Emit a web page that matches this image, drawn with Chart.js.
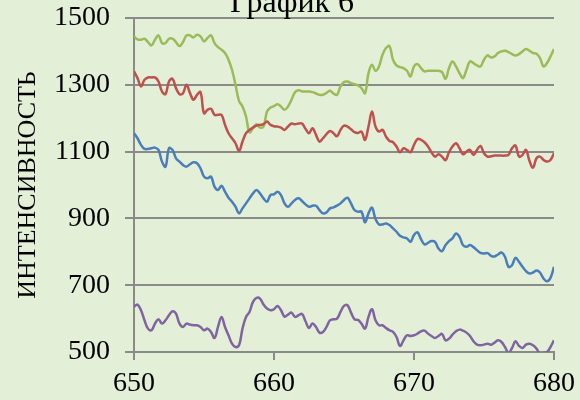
<!DOCTYPE html>
<html>
<head>
<meta charset="utf-8">
<script src="https://cdn.jsdelivr.net/npm/chart.js@4/dist/chart.umd.min.js"></script>
<style>
  body { margin: 0; background: #e3f0d7; }
  canvas { display: block; }
</style>
</head>
<body>
<canvas id="chart6" width="580" height="400"></canvas>
<script>
const chartTitle = "График 6";
const axisTitle = "ИНТЕНСИВНОСТЬ";

// wavelength, nm (step 0.25)
const wavelengths = [
  650, 650.25, 650.5, 650.75, 651, 651.25, 651.5, 651.75, 652, 652.25, 652.5, 652.75,
  653, 653.25, 653.5, 653.75, 654, 654.25, 654.5, 654.75, 655, 655.25, 655.5, 655.75,
  656, 656.25, 656.5, 656.75, 657, 657.25, 657.5, 657.75, 658, 658.25, 658.5, 658.75,
  659, 659.25, 659.5, 659.75, 660, 660.25, 660.5, 660.75, 661, 661.25, 661.5, 661.75,
  662, 662.25, 662.5, 662.75, 663, 663.25, 663.5, 663.75, 664, 664.25, 664.5, 664.75,
  665, 665.25, 665.5, 665.75, 666, 666.25, 666.5, 666.75, 667, 667.25, 667.5, 667.75,
  668, 668.25, 668.5, 668.75, 669, 669.25, 669.5, 669.75, 670, 670.25, 670.5, 670.75,
  671, 671.25, 671.5, 671.75, 672, 672.25, 672.5, 672.75, 673, 673.25, 673.5, 673.75,
  674, 674.25, 674.5, 674.75, 675, 675.25, 675.5, 675.75, 676, 676.25, 676.5, 676.75,
  677, 677.25, 677.5, 677.75, 678, 678.25, 678.5, 678.75, 679, 679.25, 679.5, 679.75, 680
];

const greenValues = [
  1445, 1436, 1435, 1438, 1428, 1418, 1435, 1448, 1425, 1425,
  1438, 1438, 1428, 1416, 1428, 1448, 1448, 1442, 1450, 1445,
  1430, 1440, 1448, 1425, 1413, 1405, 1395, 1375, 1345, 1300,
  1252, 1235, 1205, 1158, 1170, 1182, 1172, 1175, 1220, 1232,
  1236,
  1242, 1235, 1225, 1235, 1255, 1278, 1284, 1280, 1280, 1280,
  1278, 1274, 1270, 1270, 1276, 1282, 1274, 1270, 1295, 1308,
  1310, 1305, 1302, 1298, 1290, 1275, 1335, 1360, 1342, 1355,
  1390, 1410, 1416, 1375, 1358, 1353, 1350, 1342, 1325, 1355,
  1362, 1350, 1340, 1342, 1342, 1342, 1342, 1338, 1318, 1350,
  1370, 1355, 1335, 1320, 1345, 1370, 1365, 1358, 1355, 1375,
  1388, 1382, 1385, 1395, 1400, 1402, 1398, 1392, 1388, 1392,
  1400, 1407, 1402, 1395, 1393, 1380, 1355, 1365, 1385, 1407
];

const redValues = [
  1340, 1320, 1295, 1315, 1322, 1322, 1322, 1310, 1280, 1272,
  1310, 1318, 1290, 1272, 1275, 1300, 1275, 1255, 1270, 1278,
  1215, 1225, 1228, 1210, 1210, 1210, 1180, 1155, 1140, 1125,
  1102, 1130, 1155, 1165, 1172, 1178, 1180, 1182, 1190, 1180,
  1176,
  1175, 1172, 1165, 1175, 1184, 1182, 1184, 1184, 1168, 1155,
  1170, 1150, 1130, 1140, 1152, 1162, 1155, 1146, 1165, 1178,
  1175, 1167, 1158, 1156, 1160, 1135, 1175, 1220, 1175, 1160,
  1165, 1145, 1132, 1128, 1115, 1098, 1110, 1105, 1098, 1120,
  1138, 1135, 1128, 1115, 1098, 1085, 1092, 1085, 1074, 1098,
  1115, 1125, 1110, 1092, 1100, 1105, 1090, 1105, 1117, 1095,
  1085, 1086, 1088, 1088, 1088, 1088, 1090, 1110, 1118, 1085,
  1090, 1105, 1072, 1052, 1080, 1085, 1075, 1070, 1075, 1095
];

const blueValues = [
  1155, 1140, 1120, 1108, 1108, 1110, 1112, 1105, 1070, 1055,
  1110, 1105, 1080, 1070, 1060, 1055, 1062, 1068, 1065, 1050,
  1025, 1020, 1025, 995, 985, 998, 980, 962, 950, 935,
  915, 930, 945, 960, 975, 985, 975, 960, 950, 970,
  972,
  980, 970, 945, 935, 945, 955, 960, 952, 942, 935,
  938, 938, 925, 915, 918, 930, 933, 938, 945, 955,
  962, 945, 925, 920, 920, 888, 915, 932, 898, 882,
  882, 885, 880, 870, 860, 848, 843, 840, 830, 850,
  858, 838, 822, 827, 832, 830, 810, 802, 820, 832,
  840, 855, 845, 820, 815, 820, 814, 805, 797, 795,
  796, 788, 786, 792, 798, 785, 755, 760, 782, 770,
  755, 742, 735, 738, 744, 738, 720, 712, 722, 755
];

const purpleValues = [
  635, 642, 625, 595, 570, 565, 585, 598, 585, 595,
  610, 622, 615, 585, 575, 585, 582, 580, 580, 575,
  565, 570, 560, 542, 575, 605, 575, 550, 525, 515,
  520, 570, 605, 620, 650, 662, 660, 642, 630, 625,
  628,
  638, 625, 606, 612, 618, 605, 610, 614, 592, 572,
  585, 575, 558, 560, 575, 595, 598, 600, 620, 638,
  640, 618, 598, 596, 585, 570, 605, 628, 595, 580,
  580, 572, 565, 560, 545, 518, 535, 550, 548, 550,
  555, 562, 564, 555, 548, 542, 548, 554, 535, 540,
  552, 562, 567, 564, 558, 548, 532, 522, 520, 522,
  525, 522, 528, 535, 530, 515, 498, 512, 532, 518,
  512, 522, 525, 520, 510, 495, 497, 500, 515, 535
];

const xTicks = [650, 660, 670, 680];
const yTicks = [500, 700, 900, 1100, 1300, 1500];

const green = "rgb(155, 187, 89)";
const red = "rgb(192, 80, 77)";
const blue = "rgb(74, 126, 187)";
const purple = "rgb(128, 100, 162)";
const gridGray = "#8a8a8a";
const serif = "'Liberation Serif', 'Times New Roman', serif";

function toPoints(values) {
  return values.map((v, i) => ({ x: wavelengths[i], y: v }));
}

function lineSet(values, color) {
  return {
    data: toPoints(values),
    borderColor: color,
    borderWidth: 2.5,
    pointRadius: 0,
    tension: 0.4,
    fill: false,
  };
}

// title sits partly above the canvas, like in the picture
const topTitle = {
  id: "topTitle",
  afterDraw(chart) {
    const ctx = chart.ctx;
    ctx.save();
    ctx.font = "32px " + serif;
    ctx.fillStyle = "#000";
    ctx.textAlign = "center";
    ctx.textBaseline = "alphabetic";
    ctx.fillText(chartTitle, 292, 12);
    ctx.restore();
  },
};

const ctx6 = document.getElementById("chart6").getContext("2d");
new Chart(ctx6, {
  type: "line",
  data: {
    datasets: [
      lineSet(blueValues, blue),
      lineSet(redValues, red),
      lineSet(greenValues, green),
      lineSet(purpleValues, purple),
    ],
  },
  options: {
    responsive: false,
    animation: false,
    layout: { padding: { top: 18, right: 26, left: 0, bottom: 0 } },
    plugins: {
      legend: { display: false },
      tooltip: { enabled: false },
    },
    scales: {
      x: {
        type: "linear",
        min: 650,
        max: 680,
        afterFit: (scale) => {
          scale.height = 48;
          scale.paddingLeft = 0;
          scale.paddingRight = 0;
        },
        afterBuildTicks: (scale) => { scale.ticks = xTicks.map((v) => ({ value: v })); },
        ticks: {
          color: "#000",
          font: { family: serif, size: 28 },
          padding: 7,
          maxRotation: 0,
          callback: (v) => String(v),
        },
        grid: {
          drawOnChartArea: false,
          drawTicks: true,
          tickLength: 8,
          color: gridGray,
          lineWidth: 2,
        },
        border: { color: gridGray, width: 2 },
      },
      y: {
        min: 500,
        max: 1500,
        afterFit: (scale) => {
          scale.width = 134;
          scale.paddingTop = 0;
          scale.paddingBottom = 0;
        },
        afterBuildTicks: (scale) => { scale.ticks = yTicks.map((v) => ({ value: v })); },
        ticks: {
          color: "#000",
          font: { family: serif, size: 28 },
          padding: 15,
          callback: (v) => String(v),
        },
        grid: {
          color: gridGray,
          lineWidth: 2,
          tickLength: 9,
        },
        border: { color: gridGray, width: 2 },
        title: {
          display: true,
          text: axisTitle,
          color: "#000",
          font: { family: serif, size: 26 },
          padding: { top: 13, bottom: 0 },
        },
      },
    },
  },
  plugins: [topTitle],
});
</script>
</body>
</html>
